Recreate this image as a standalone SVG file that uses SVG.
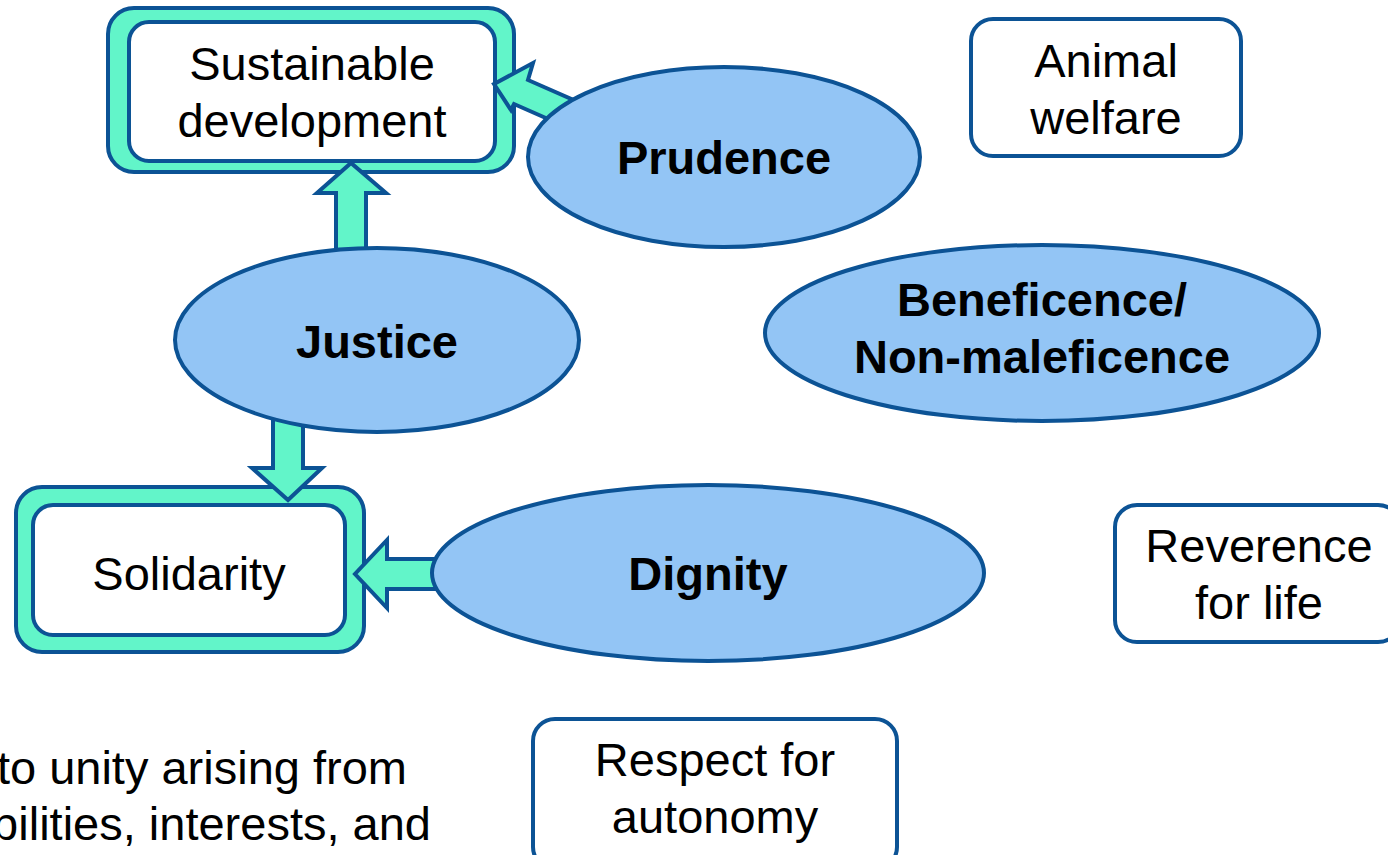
<svg xmlns="http://www.w3.org/2000/svg" width="1388" height="855" viewBox="0 0 1388 855">
<style>
.outer{fill:#62f5c9;stroke:#0c5395;stroke-width:4}
.inner{fill:#ffffff;stroke:#0c5395;stroke-width:4}
.box{fill:#ffffff;stroke:#0c5395;stroke-width:4}
.ell{fill:#93c5f5;stroke:#0c5395;stroke-width:4}
.arr{fill:#62f5c9;stroke:#0c5395;stroke-width:4;stroke-linejoin:miter}
text{font-family:"Liberation Sans",Arial,sans-serif;font-size:47px;fill:#000;text-anchor:middle}
.b{font-weight:bold}
</style>
<rect width="1388" height="855" fill="#ffffff"/>
<g id="sustainable-development">
<rect class="outer" x="108" y="8" width="406" height="164" rx="26"/>
<rect class="inner" x="129" y="22" width="366" height="139" rx="20"/>
<text x="312" y="80">Sustainable</text>
<text x="312" y="137">development</text>
</g>
<g id="solidarity">
<rect class="outer" x="16" y="487" width="348" height="165" rx="26"/>
<rect class="inner" x="33" y="505" width="312" height="130" rx="20"/>
<text x="189" y="590">Solidarity</text>
</g>
<g id="animal-welfare">
<rect class="box" x="971" y="19" width="270" height="137" rx="22"/>
<text x="1106" y="77">Animal</text>
<text x="1106" y="134">welfare</text>
</g>
<g id="reverence-for-life">
<rect class="box" x="1115" y="505" width="285" height="137" rx="22"/>
<text x="1259" y="562">Reverence</text>
<text x="1259" y="619">for life</text>
</g>
<g id="respect-for-autonomy">
<rect class="box" x="533" y="719" width="364" height="150" rx="22"/>
<text x="715" y="776">Respect for</text>
<text x="715" y="833">autonomy</text>
</g>
<g id="connectors">
<polygon class="arr" points="336,262 336,193 317,193 351,163 386,193 366,193 366,262"/>
<polygon class="arr" points="273,412 273,468 252,468 288,500 322,468 303,468 303,412"/>
<polygon class="arr" points="445,559 387,559 387,540 355,574 387,608 387,589 445,589"/>
<polygon class="arr" points="494,84 533,63 528,80 578,102 564,126 514,104 511,110"/>
</g>
<g id="prudence">
<ellipse class="ell" cx="724" cy="157" rx="196" ry="90"/>
<text class="b" x="724" y="174">Prudence</text>
</g>
<g id="justice">
<ellipse class="ell" cx="377" cy="340" rx="202" ry="92"/>
<text class="b" x="377" y="358">Justice</text>
</g>
<g id="beneficence">
<ellipse class="ell" cx="1042" cy="333" rx="277" ry="88"/>
<text class="b" x="1042" y="316">Beneficence/</text>
<text class="b" x="1042" y="373">Non-maleficence</text>
</g>
<g id="dignity">
<ellipse class="ell" cx="708" cy="573" rx="276" ry="88"/>
<text class="b" x="708" y="590">Dignity</text>
</g>
<g id="caption">
<text x="407" y="784" style="text-anchor:end">to unity arising from</text>
<text x="431" y="840" style="text-anchor:end">bilities, interests, and</text>
</g>
</svg>
